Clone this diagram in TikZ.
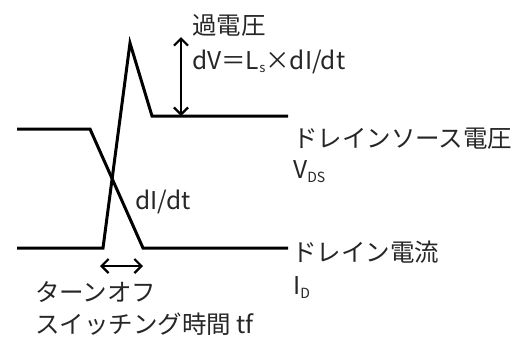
\documentclass[tikz,border=0pt]{standalone}
\usepackage{fontspec}
\setmainfont{Noto Sans CJK JP}
\usetikzlibrary{arrows.meta}
\tikzset{
  wave/.style={line width=3pt, line join=miter},
  dim/.style={line width=2.2pt, {Straight Barb[length=7pt,width=14pt]}-{Straight Barb[length=7pt,width=14pt]}},
  lbl/.style={anchor=west, inner sep=0pt, font=\fontsize{24.5}{28}\selectfont, text=black!85}
}
\begin{document}
\begin{tikzpicture}[x=1pt,y=-1pt]
\useasboundingbox (0,0) rectangle (515,338);
% current waveform
\coordinate (i0) at (17,129);
\coordinate (i1) at (90,129);
\coordinate (i2) at (143,248);
\coordinate (i3) at (288,248);
% voltage waveform
\coordinate (v0) at (17,248);
\coordinate (v1) at (103,248);
\coordinate (v2) at (130,43);
\coordinate (v3) at (152,116);
\coordinate (v4) at (288,116);
\draw[wave] (i0) -- (i1) -- (i2) -- (i3);
\draw[wave] (v0) -- (v1) -- (v2) -- (v3) -- (v4);
% dimension arrows
\coordinate (ov1) at (181,37);
\coordinate (ov2) at (181,116);
\draw[dim] (ov1) -- (ov2);
\coordinate (tf1) at (100,266);
\coordinate (tf2) at (143,266);
\draw[dim] (tf1) -- (tf2);
% labels
\node[lbl] (ovl) at (192,25) {過電圧};
\node[lbl] (ovf) at (192,62) {dV＝L{\fontsize{13}{13}\selectfont\raisebox{-3pt}{s}}×dI/dt};
\node[lbl] (vds) at (293,139) {ドレインソース電圧};
\node[lbl] (vdss) at (293,172) {V{\fontsize{14}{14}\selectfont\raisebox{-4pt}{DS}}};
\node[lbl] (didt) at (135,202) {dI/dt};
\node[lbl] (id) at (292,252) {ドレイン電流};
\node[lbl] (ids) at (293,288) {I{\fontsize{14}{14}\selectfont\raisebox{-4pt}{D}}};
\node[lbl] (to1) at (35,292) {ターンオフ};
\node[lbl] (to2) at (35,324) {スイッチング時間 tf};
\end{tikzpicture}
\end{document}
